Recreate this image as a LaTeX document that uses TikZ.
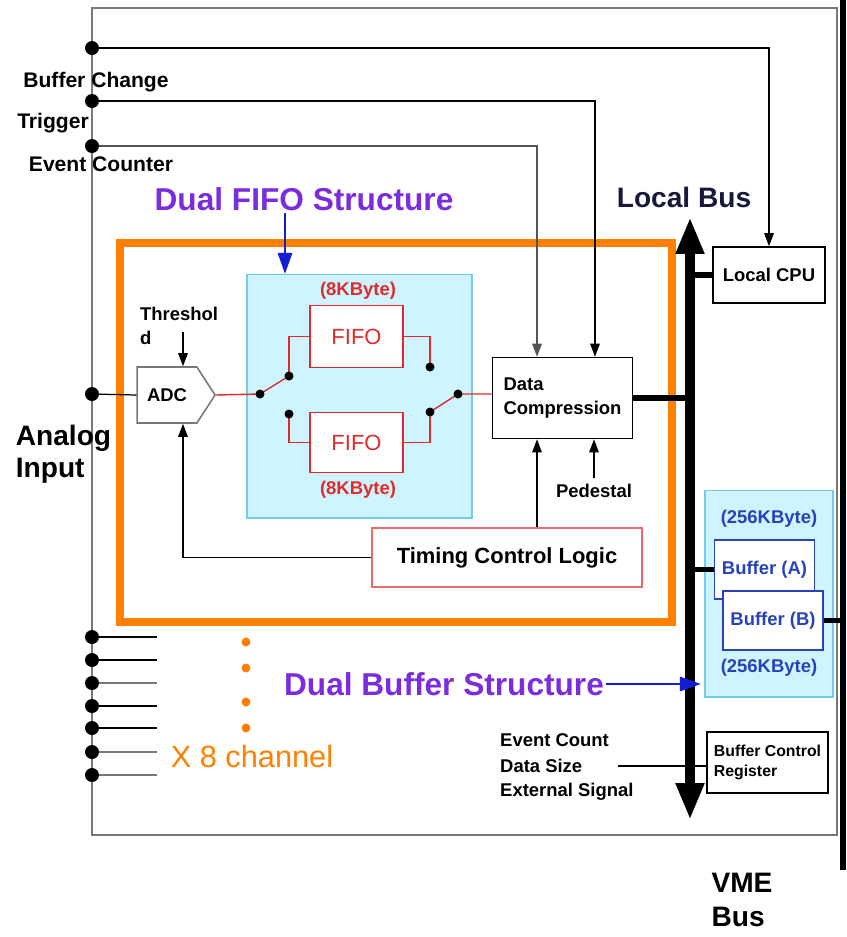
\documentclass[tikz,border=0pt]{standalone}
\usepackage{fontspec}
\setmainfont{Liberation Sans}
\usetikzlibrary{arrows.meta,shapes.symbols,positioning}

\definecolor{dualpurple}{RGB}{122,44,222}
\definecolor{arrowblue}{RGB}{20,30,210}
\definecolor{cardorange}{RGB}{255,128,0}
\definecolor{fifocyan}{RGB}{206,245,255}
\definecolor{cyanedge}{RGB}{112,204,240}
\definecolor{fifored}{RGB}{226,42,42}
\definecolor{bufblue}{RGB}{40,66,186}
\definecolor{busnavy}{RGB}{24,24,60}
\definecolor{boardgray}{RGB}{120,120,120}

\tikzset{
  lbl/.style={font=\bfseries\fontsize{12}{14}\selectfont},
  smalltxt/.style={font=\bfseries\fontsize{10.5}{14}\selectfont},
  titletxt/.style={text=dualpurple, font=\bfseries\fontsize{18}{22}\selectfont, inner sep=1pt},
  bigtxt/.style={font=\bfseries\fontsize{16}{19}\selectfont},
  box/.style={draw, line width=0.9pt, fill=white, smalltxt, inner sep=2pt},
  adcbox/.style={signal, signal to=east, signal pointer angle=114, draw=boardgray,
    line width=0.9pt, fill=white, smalltxt, minimum width=1.56cm, minimum height=1.12cm, inner sep=1pt},
  fifobox/.style={draw=fifored, line width=0.8pt, fill=white, text=fifored,
    font=\fontsize{12.5}{15}\selectfont, minimum width=1.86cm},
  bufbox/.style={draw=bufblue, line width=0.9pt, fill=white, text=bufblue, smalltxt,
    minimum width=2cm, minimum height=1.18cm},
  area/.style={fill=fifocyan, draw=cyanedge, line width=0.6pt},
  jdot/.style={circle, fill=black, inner sep=0pt, minimum size=0.28cm},
  swdot/.style={circle, fill=black, inner sep=0pt, minimum size=0.18cm},
  sig/.style={line width=0.7pt, -{Triangle[width=5.5pt,length=7.5pt]}},
  wire/.style={fifored, line width=0.8pt},
  link/.style={line width=3.2pt},
  bluearr/.style={arrowblue, line width=1.6pt, -{Triangle[width=8pt,length=12pt]}},
}

\begin{document}
\begin{tikzpicture}[x=0.02cm, y=-0.02cm]
  \useasboundingbox (0,0) rectangle (846,937);

  % Placa e barramento VME
  \draw[boardgray, line width=0.9pt] (92,8) rectangle (837,835);
  \coordinate (vmetop) at (843,0);
  \coordinate (vmebot) at (843,870);
  \draw[line width=3pt] (vmetop) -- (vmebot);

  % Canal e areas dos FIFOs e buffers
  \draw[cardorange, line width=4.5pt] (120,243) rectangle (672,622);
  \node[area, minimum width=4.5cm, minimum height=4.88cm] (fifoarea) at (359.5,396) {};
  \node[area, minimum width=2.56cm, minimum height=4.14cm] (bufarea) at (769,593.5) {};

  % Blocos
  \node[adcbox] (adc) at (167,395) {ADC};
  \node[fifobox, minimum height=1.24cm] (fifoA) at (356.5,336.5) {FIFO};
  \node[fifobox, minimum height=1.2cm] (fifoB) at (356.5,442.5) {FIFO};
  \node[box, align=left, font=\bfseries\fontsize{10.5}{14}\selectfont,
    minimum width=2.8cm, minimum height=1.62cm] (dc) at (562.5,398) {Data\\Compression};
  \node[box, draw=fifored!70, line width=0.8pt, font=\bfseries\fontsize{12.5}{15}\selectfont,
    minimum width=5.4cm, minimum height=1.18cm] (tcl) at (507,557.5) {Timing Control Logic};
  \node[box, minimum width=2.24cm, minimum height=1.12cm] (cpu) at (769,275) {Local CPU};
  \node[bufbox] (bufA) at (764.5,569.5) {Buffer (A)};
  \node[bufbox] (bufB) at (773,620.5) {Buffer (B)};
  \node[box, align=left, font=\bfseries\fontsize{9}{11}\selectfont,
    minimum width=2.42cm, minimum height=1.22cm] (bcr) at (767.5,762.5) {Buffer Control\\Register};

  % Textos
  \node[lbl] (bcl) at (96,82) {Buffer Change};
  \node[lbl] (trl) at (53,123) {Trigger};
  \node[lbl] (ecl) at (101,164) {Event Counter};
  \node[titletxt] (dft) at (304,199) {Dual FIFO Structure};
  \node[bigtxt, text=busnavy] (lbus) at (684,197) {Local Bus};
  \node[smalltxt, align=left] (thr) at (179,326) {Threshol\\d};
  \node[smalltxt] (ped) at (594,491) {Pedestal};
  \node[smalltxt, text=fifored] (szA) at (358,291) {(8KByte)};
  \node[smalltxt, text=fifored] (szB) at (358,490) {(8KByte)};
  \node[smalltxt, text=bufblue] (szbA) at (769,519) {(256KByte)};
  \node[smalltxt, text=bufblue] (szbB) at (769,668) {(256KByte)};
  \node[bigtxt, font=\bfseries\fontsize{16}{18.5}\selectfont, align=left] (ain) at (63.5,454) {Analog\\Input};
  \node[titletxt] (dbs) at (444,684) {Dual Buffer Structure};
  \node[text=cardorange, font=\fontsize{17.5}{20}\selectfont] (x8) at (252,756) {X 8 channel};
  \node[smalltxt, anchor=west] (evc) at (494,740) {Event Count};
  \node[smalltxt, anchor=west] (dsz) at (494,766) {Data Size};
  \node[smalltxt, anchor=west] (exs) at (494,792) {External Signal};
  \node[bigtxt, font=\bfseries\fontsize{16}{19.8}\selectfont, align=left] (vme) at (742,900) {VME\\Bus};

  % Sinais do topo
  \coordinate (jbc) at (92,48);
  \coordinate (jtr) at (92,101);
  \coordinate (jec) at (92,146);
  \draw[sig] (jbc) -| (cpu.north);
  \draw[sig] (jtr) -| ([xshift=0.65cm]dc.north);
  \draw[sig, draw=boardgray!70!black] (jec) -| ([xshift=-0.51cm]dc.north);

  % Entrada analogica, limiar e controle de tempo
  \coordinate (jai) at (92,394);
  \draw[line width=0.7pt] (jai) -- (adc.west);
  \draw[sig] ([xshift=0.32cm,yshift=0.68cm]adc.north) -- ([xshift=0.32cm]adc.north);
  \draw[sig] (tcl.west) -| ([xshift=0.32cm]adc.south);
  \coordinate (tclup) at ([xshift=-0.51cm]dc.south);
  \draw[sig] (tclup |- tcl.north) -- (tclup);
  \draw[sig] (ped.north) -- (ped.north |- dc.south);

  % Chaves e FIFOs
  \coordinate (sl) at (260,394);
  \coordinate (su) at (289,376);
  \coordinate (sd) at (289,414);
  \coordinate (ru) at (430,367);
  \coordinate (rd) at (430,412);
  \coordinate (rp) at (458,394);
  \draw[wire] (adc.east) -- (sl) -- (su);
  \draw[wire] (su) |- (fifoA.west);
  \draw[wire] (sd) |- (fifoB.west);
  \draw[wire] (fifoA.east) -| (ru);
  \draw[wire] (fifoB.east) -| (rd);
  \draw[wire] (rd) -- (rp) -- (rp -| dc.west);
  \foreach \p in {sl,su,sd,ru,rd,rp}
    \node[swdot] at (\p) {};

  % Local Bus e ligacoes
  \coordinate (bustop) at (690,217);
  \coordinate (busbot) at (690,820);
  \draw[link] (dc.east) -- (dc.east -| bustop);
  \draw[link] (cpu.west) -- (cpu.west -| bustop);
  \draw[link] (bufA.west) -- (bufA.west -| bustop);
  \draw[link] (bufB.east) -- (bufB.east -| vmetop);
  \draw[line width=5.6pt, {Triangle[width=15pt,length=21pt]}-{Triangle[width=15pt,length=21pt]}]
    (busbot) -- (bustop);
  \draw[line width=0.7pt] ([xshift=0.6cm]dsz.east) -- (dsz.east -| bcr.west);

  % Setas azuis
  \coordinate (fifoin) at (285,274);
  \coordinate (bufin) at (701,683);
  \draw[bluearr] (dft.south -| fifoin) -- (fifoin);
  \draw[bluearr] (dbs.east) -- (dbs.east -| bufin);

  % Canais
  \foreach \y/\c in {637/black,660/black,683/boardgray,706/black,728/black,752/boardgray,775/boardgray} {
    \coordinate (ch\y) at (92,\y);
    \coordinate (chend\y) at (157,\y);
    \draw[\c, line width=0.8pt] (ch\y) -- (chend\y);
  }
  \foreach \p in {jbc,jtr,jec,jai,ch637,ch660,ch683,ch706,ch728,ch752,ch775}
    \node[jdot] at (\p) {};
  \foreach \y in {642,668,702,728}
    \fill[cardorange] (246,\y) circle (0.09cm);
\end{tikzpicture}
\end{document}
